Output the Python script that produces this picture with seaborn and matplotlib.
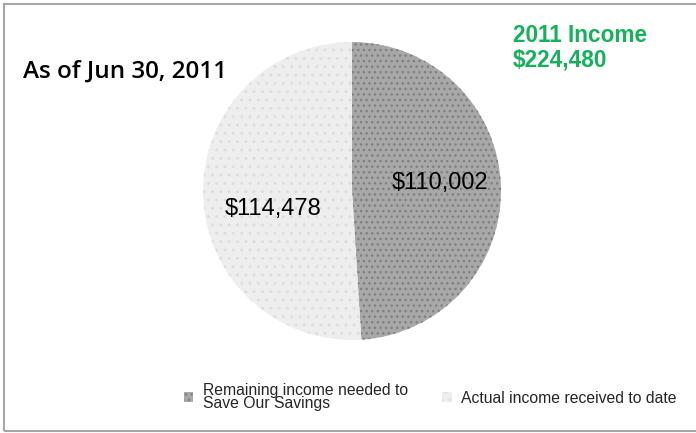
import matplotlib
matplotlib.use("Agg")
import matplotlib.pyplot as plt
import seaborn as sns
from matplotlib.patches import Rectangle

categories = ["Remaining income needed to\nSave Our Savings", "Actual income received to date"]
values = [110002, 114478]
value_labels = ["$110,002", "$114,478"]
total_label = "$224,480"
date_label = "As of Jun 30, 2011"

sns.set_theme(style="white")
plt.rcParams['font.family'] = ['Liberation Sans', 'DejaVu Sans']
plt.rcParams['hatch.linewidth'] = 1.0

fig = plt.figure(figsize=(6.96, 4.33), dpi=100)
fig.patch.set_facecolor('white')

# frame
fig.add_artist(Rectangle((4/696, 2/433), 700/696, 427/433, transform=fig.transFigure,
                         fill=False, edgecolor='#a6a6a6', linewidth=1.5))

# pie axes: center (352,191), radius ~149
cx, cy, r = 352, 191, 149
ax = fig.add_axes([(cx - r)/696, (433 - cy - r)/433, 2*r/696, 2*r/433])
face = ['#a8a8a8', '#eeeeee']
hatchc = ['#7f7f7f', '#dedede']
wedges, _ = ax.pie(values, startangle=90, counterclock=False, colors=face,
                   wedgeprops=dict(linewidth=0))
for w, hc, h in zip(wedges, hatchc, ['...', '..']):
    w.set_hatch(h)
    w.set_edgecolor(hc)
    w.set_linewidth(0)
ax.set_aspect('equal')
ax.set_xlim(-1, 1)
ax.set_ylim(-1, 1)

# value labels
fig.text(440/696, 1 - 183/433, value_labels[0], ha='center', va='center', fontsize=17, color='black')
fig.text(273/696, 1 - 209/433, value_labels[1], ha='center', va='center', fontsize=17, color='black')

# titles
fig.text(23/696, 1 - 72/433, date_label, ha='left', va='center', fontsize=17.5,
         fontweight='semibold', family=['Open Sans', 'DejaVu Sans'], color='black')
fig.text(513/696, 1 - 35/433, "2011 Income", ha='left', va='center', fontsize=16.3,
         fontweight='bold', color='#14b35a')
fig.text(513/696, 1 - 60/433, total_label, ha='left', va='center', fontsize=16.3,
         fontweight='bold', color='#14b35a')

# legend
leg = fig.legend(wedges, categories, loc='center left', bbox_to_anchor=(184/696, 1 - 397/433),
                 ncol=2, frameon=False, handlelength=0.6, handleheight=0.6,
                 handletextpad=0.6, columnspacing=2.2, borderaxespad=0, borderpad=0,
                 prop=dict(size=11.3), labelspacing=0)
for t in leg.get_texts():
    t.set_linespacing(0.85)

fig.savefig("out.png", dpi=100, facecolor='white')
